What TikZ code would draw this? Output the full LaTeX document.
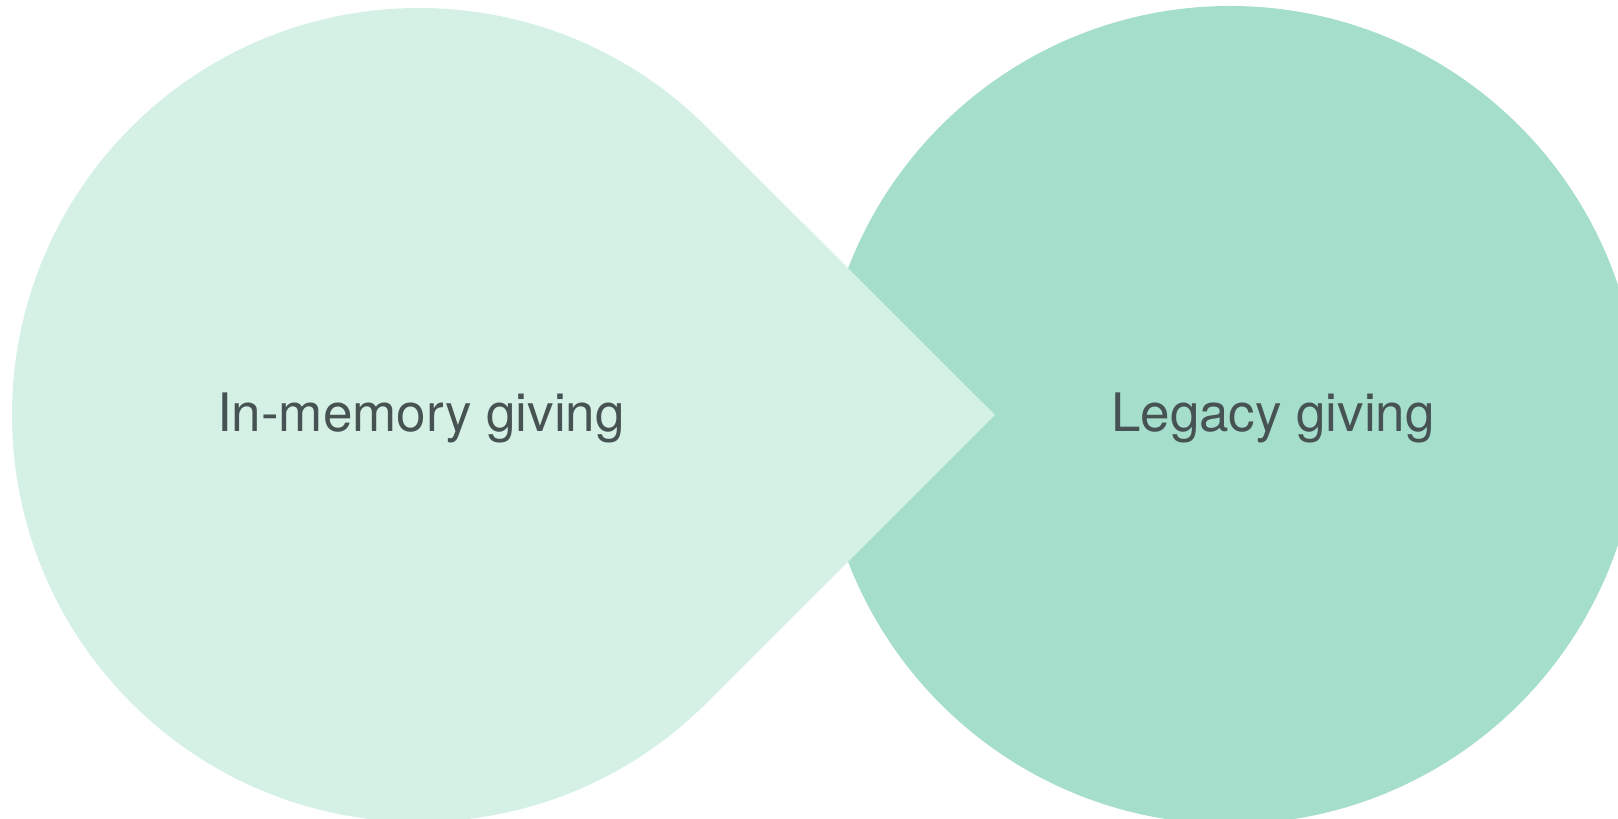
\documentclass[tikz,border=0pt]{standalone}
\usepackage{fontspec}
\setmainfont{TeX Gyre Heros}
\definecolor{mintlight}{HTML}{D5F1E6}
\definecolor{mintdark}{HTML}{A5DECA}
\definecolor{labelgray}{HTML}{465352}
\tikzset{
  label text/.style={text=labelgray, anchor=base, inner sep=0pt,
    font=\fontsize{53}{60}\selectfont}
}
\begin{document}
\begin{tikzpicture}[x=1pt,y=1pt]
			\useasboundingbox (0,0) rectangle (1618,819);
			\clip (0,0) rectangle (1618,819);
			
			\fill[mintdark] (1230,404) circle (409);
			\fill[mintlight] (995,404) -- (706.8,691.8)
			  arc[start angle=45, end angle=315, radius=407] -- cycle;
			
			\node[label text] (memory) at (421,387) {In-memory giving};
			\node[label text] (legacy) at (1273,387) {Legacy giving};
		  \end{tikzpicture}
\end{document}
